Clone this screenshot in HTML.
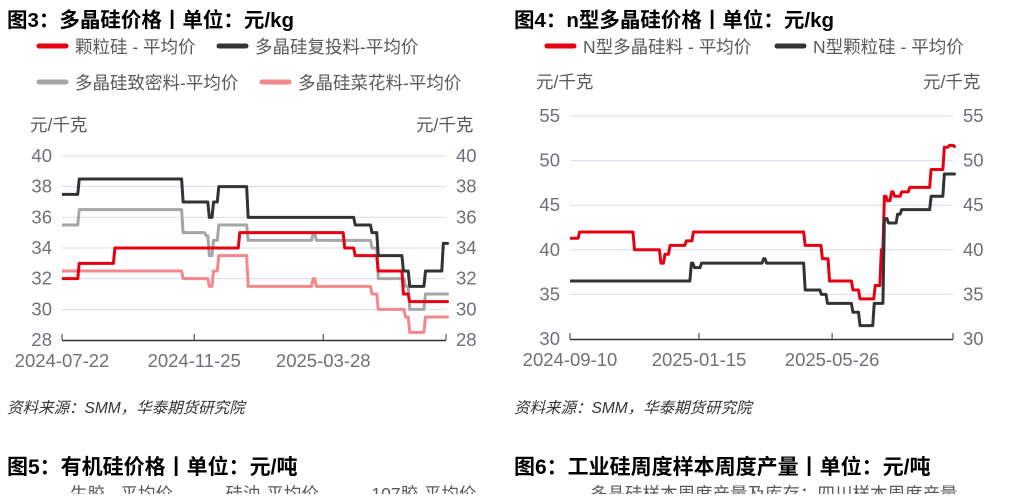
<!DOCTYPE html>
<html><head><meta charset="utf-8"><style>
body{margin:0;background:#fff;width:1026px;height:494px;overflow:hidden;font-family:"Liberation Sans","Noto Sans CJK SC",sans-serif}
svg text{font-family:"Liberation Sans","Noto Sans CJK SC",sans-serif}
</style></head><body>
<svg id="s" width="1026" height="494" viewBox="0 0 1026 494" xmlns="http://www.w3.org/2000/svg">
<g>
<text x="7" y="27" font-size="20.5" font-weight="bold" fill="#000">图3：多晶硅价格丨单位：元/kg</text>
<line x1="39" y1="46" x2="66" y2="46" stroke="#e60012" stroke-width="5" stroke-linecap="round"/>
<text x="75" y="53" font-size="17.5" fill="#595959">颗粒硅 - 平均价</text>
<line x1="219" y1="46" x2="246" y2="46" stroke="#333" stroke-width="5" stroke-linecap="round"/>
<text x="255" y="53" font-size="17.5" fill="#595959">多晶硅复投料-平均价</text>
<line x1="39" y1="82" x2="66" y2="82" stroke="#a6a6a6" stroke-width="5" stroke-linecap="round"/>
<text x="75" y="89" font-size="17.5" fill="#595959">多晶硅致密料-平均价</text>
<line x1="262" y1="82" x2="289" y2="82" stroke="#f4878d" stroke-width="5" stroke-linecap="round"/>
<text x="298" y="89" font-size="17.5" fill="#595959">多晶硅菜花料-平均价</text>
<text x="30" y="131" font-size="17.5" fill="#595959">元/千克</text>
<text x="416" y="131" font-size="17.5" fill="#595959">元/千克</text>
</g>
<g>
<text x="514" y="27" font-size="20.5" font-weight="bold" fill="#000">图4：n型多晶硅价格丨单位：元/kg</text>
<line x1="547" y1="46" x2="574" y2="46" stroke="#e60012" stroke-width="5" stroke-linecap="round"/>
<text x="583" y="53" font-size="17.5" fill="#595959">N型多晶硅料 - 平均价</text>
<line x1="777" y1="46" x2="804" y2="46" stroke="#333" stroke-width="5" stroke-linecap="round"/>
<text x="813" y="53" font-size="17.5" fill="#595959">N型颗粒硅 - 平均价</text>
<text x="536" y="88" font-size="17.5" fill="#595959">元/千克</text>
<text x="923" y="88" font-size="17.5" fill="#595959">元/千克</text>
</g>
<g id="c3"></g>
<g id="c4"></g>
<text x="7" y="413" font-size="15.5" font-style="italic" fill="#333" font-family="Liberation Serif,Noto Serif CJK SC,serif">资料来源：SMM，华泰期货研究院</text>
<text x="514" y="413" font-size="15.5" font-style="italic" fill="#333" font-family="Liberation Serif,Noto Serif CJK SC,serif">资料来源：SMM，华泰期货研究院</text>
<text x="7" y="474" font-size="21" font-weight="bold" fill="#000">图5：有机硅价格丨单位：元/吨</text>
<text x="514" y="474" font-size="21" font-weight="bold" fill="#000">图6：工业硅周度样本周度产量丨单位：元/吨</text>
<text x="70" y="500" font-size="17.5" fill="#595959">生胶 - 平均价　　　硅油-平均价　　　107胶-平均价</text>
<text x="590" y="500" font-size="17.5" fill="#595959">多晶硅样本周度产量及库存：四川样本周度产量</text>
</svg>
<script>
// Chart 3 data (day offsets from 2024-07-22, step series)
const c3TickDays=[0,126,249];
const c3TickLabels=["2024-07-22","2024-11-25","2025-03-28"];
const c3YTicks=[28,30,32,34,36,38,40];
const granDays=[0,15,49,168,268,278,300,324,330,366];
const granVals=[32,33,34,35,34,33.5,32.5,31,30.5,30.5];
const rechDays=[0,15,114,139,143,148,176,278,294,300,324,330,345,362,366];
const rechVals=[37.5,38.5,37,36,37,38,36,35.5,35,33.5,32.5,31.5,32.5,34.3,34.3];
const denseDays=[0,15,114,136,139,143,148,176,238,241,294,300,326,330,345,366];
const denseVals=[35.5,36.5,35,34.8,33.5,34.5,35.5,34.5,35,34.5,34,32,31.5,30,31,31];
const cauDays=[0,114,139,143,148,176,238,241,294,300,326,330,345,366];
const cauVals=[32.5,32,31.5,32.5,33.5,31.5,32,31.5,31,30,29.5,28.5,29.5,29.5];
// Chart 4 data (day offsets from 2024-09-10)
const c4TickDays=[0,127,258];
const c4TickLabels=["2024-09-10","2025-01-15","2025-05-26"];
const c4YTicks=[30,35,40,45,50,55];
const nPolyDays=[0,8,62,88,92,97,113,120,230,247,254,277,284,299,305,308,311,315,318,325,333,354,367,372,377];
const nPolyVals=[41.3,42,40,38.5,39.5,40.5,41,42,40.5,39,36.5,35.5,34.5,36,40,46,45.5,46.5,46,46.5,47,49,51.5,51.7,51.6];
const nGranDays=[0,118,121,128,189,192,230,246,252,277,284,298,308,312,321,325,354,367,377];
const nGranVals=[36.5,38.5,38,38.5,39,38.5,35.5,35,34,33,31.5,34,43.5,43,44,44.5,46,48.5,48.5];

const NS="http://www.w3.org/2000/svg";
function mk(p,t,a){const e=document.createElementNS(NS,t);for(const k in a)e.setAttribute(k,a[k]);p.appendChild(e);return e;}
function drawChart(g,o){
  const xs=d=>o.x0+(d-o.d0)*(o.x1-o.x0)/(o.d1-o.d0);
  const ys=v=>o.yB+(v-o.vMin)*(o.yT-o.yB)/(o.vMax-o.vMin);
  o.yTicks.forEach((v,i)=>{
    if(i>0){const gl=mk(g,"line",{x1:o.x0,x2:o.x1,y1:ys(v),y2:ys(v),stroke:"#d9dcec","stroke-width":1});
    
    }
    const t=mk(g,"text",{x:o.x0-10,y:ys(v)+6,"font-size":18.5,fill:"#6e7079","text-anchor":"end"});t.textContent=v;
    
    
    const t2=mk(g,"text",{x:o.x1+10,y:ys(v)+6,"font-size":18.5,fill:"#6e7079"});t2.textContent=v;
    
    
  });
  const ax=mk(g,"line",{x1:o.x0,x2:o.x1,y1:o.yB+0.5,y2:o.yB+0.5,stroke:"#333","stroke-width":1.5});
  
  
  const ends=[o.d0].concat(o.tickDays,[o.d1]);
  ends.forEach(d=>{const tk=mk(g,"line",{x1:xs(d),x2:xs(d),y1:o.yB,y2:o.yB-6,stroke:"#333"});
    
    });
  o.tickDays.forEach((d,i)=>{const t=mk(g,"text",{x:xs(d),y:o.yB+27,"font-size":18.5,fill:"#6e7079","text-anchor":"middle"});t.textContent=o.tickLabels[i];
    
    });
  o.series.forEach(s=>{
    let p="";
    s.days.forEach((d,i)=>{
      if(i===0)p+="M"+xs(d)+","+ys(s.vals[i]);
      else{p+=" L"+xs(d)+","+ys(s.vals[i-1])+" L"+(xs(d)+1.5)+","+ys(s.vals[i]);}
    });
    p+=" L"+xs(o.d1)+","+ys(s.vals[s.vals.length-1]);
    const l=mk(g,"path",{d:p,fill:"none",stroke:s.color,"stroke-width":3,"stroke-linejoin":"round"});
    
    
  });
}
drawChart(document.getElementById("c3"),{x0:62,x1:446,d0:0,d1:366,yB:340,yT:156,vMin:28,vMax:40,
  yTicks:c3YTicks,tickDays:c3TickDays,tickLabels:c3TickLabels,
  series:[{days:cauDays,vals:cauVals,color:"#f4878d",name:"cauliflower-line"},
          {days:denseDays,vals:denseVals,color:"#a6a6a6",name:"dense-line"},
          {days:granDays,vals:granVals,color:"#e60012",name:"granular-line"},
          {days:rechDays,vals:rechVals,color:"#333333",name:"recharge-line"}]});
drawChart(document.getElementById("c4"),{x0:570,x1:953,d0:0,d1:377,yB:339,yT:116,vMin:30,vMax:55,
  yTicks:c4YTicks,tickDays:c4TickDays,tickLabels:c4TickLabels,
  series:[{days:nPolyDays,vals:nPolyVals,color:"#e60012",name:"n-poly-line"},
          {days:nGranDays,vals:nGranVals,color:"#333333",name:"n-granular-line"}]});
</script>
</body></html>
